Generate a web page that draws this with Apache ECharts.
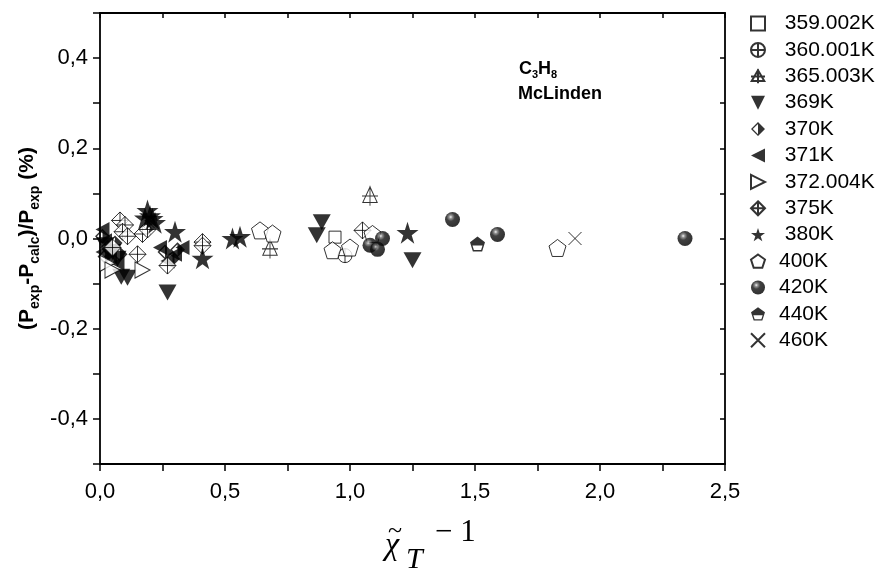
<!DOCTYPE html>
<html><head><meta charset="utf-8">
<script src="https://cdn.jsdelivr.net/npm/echarts@6/dist/echarts.min.js"></script>
<style>html,body{margin:0;padding:0;background:#fff}#c{width:883px;height:572px}</style>
</head><body><div id="c"></div>
<script>
const seriesNames = ['359.002K','360.001K','365.003K','369K','370K','371K','372.004K','375K','380K','400K','420K','440K','460K'];
const d359 = [[0.94,0.003]];
const d360 = [[0.98,-0.038]];
const d365 = [[1.08,0.095],[0.68,-0.022]];
const d369 = [[0.867,0.007],[0.887,0.036],[1.25,-0.048],[0.085,-0.085],[0.11,-0.087],[0.27,-0.12],[0.02,-0.015],[0.05,-0.03],[0.07,-0.045]];
const d370 = [[0.01,0.005],[0.03,-0.02],[0.06,-0.01],[0.08,-0.035],[0.02,-0.04],[0.26,-0.03],[0.29,-0.045],[0.31,-0.025]];
const d371 = [[0.01,0.02],[0.02,-0.005],[0.04,-0.04],[0.07,-0.055],[0.01,-0.03],[0.24,-0.02],[0.27,-0.05],[0.30,-0.035],[0.33,-0.02]];
const d372 = [[0.17,-0.07],[0.03,-0.055],[0.05,-0.07]];
const d375 = [[0.08,0.04],[0.10,0.03],[0.09,0.015],[0.11,0.005],[0.17,0.01],[0.15,-0.035],[0.27,-0.06],[0.41,-0.008],[0.41,-0.016],[1.05,0.018],[0.05,-0.02],[0.19,0.02]];
const d380 = [[0.19,0.062],[0.21,0.044],[0.18,0.045],[0.30,0.015],[0.41,-0.044],[0.53,0.0],[0.56,0.004],[1.23,0.013],[0.22,0.035],[0.2,0.05]];
const d400 = [[0.64,0.018],[0.69,0.011],[0.93,-0.026],[1.0,-0.02],[1.09,0.01],[1.83,-0.021]];
const d420 = [[1.08,-0.015],[1.13,0.0],[1.11,-0.024],[1.41,0.042],[1.59,0.009],[2.34,0.0]];
const d440 = [[1.51,-0.012]];
const d460 = [[1.90,0.0]];
const xTickLabels = ['0,0','0,5','1,0','1,5','2,0','2,5'];
const yTickLabels = ['-0,4','-0,2','0,0','0,2','0,4'];

const SYM = {
  square: 'path://M0,0L100,0L100,100L0,100Z',
  circlePlus: 'path://M50,0A50,50,0,1,1,49.9,0ZM50,0L50,100M0,50L100,50',
  triCross: 'path://M50,6L95,84L5,84ZM50,0L50,100M0,52L100,52',
  triDown: 'path://M0,0L100,0L50,100Z',
  halfDiamond: 'path://M50,0L100,50L50,100L0,50ZM50,13L13,50L50,87L87,50ZM50,0L100,50L50,100Z',
  triLeft: 'path://M0,50L100,0L100,100Z',
  triRight: 'path://M0,0L100,50L0,100Z',
  diamondCross: 'path://M50,0L100,50L50,100L0,50ZM50,0L50,100M0,50L100,50',
  star: 'path://M50,0L61.2,34.5L97.6,34.5L68.2,55.9L79.4,90.5L50,69.1L20.6,90.5L31.8,55.9L2.4,34.5L38.8,34.5Z',
  pentagon: 'path://M50,0L97.6,34.5L79.4,90.5L20.6,90.5L2.4,34.5Z',
  halfPentagon: 'path://M50,0L97.6,34.5L79.4,90.5L20.6,90.5L2.4,34.5ZM50,11L12.9,38L27.1,82L72.9,82L87.1,38ZM50,0L97.6,34.5L90.9,55L9.1,55L2.4,34.5Z',
  cross: 'path://M0,0L100,100M100,0L0,100'
};
const open = {color:'#fff', borderColor:'#000', borderWidth:1};
const filled = {color:'#000', borderWidth:0};
const sphere = {color:{type:'radial',x:0.38,y:0.33,r:0.62,colorStops:[{offset:0,color:'#f4f4f4'},{offset:0.18,color:'#777'},{offset:0.45,color:'#111'},{offset:1,color:'#000'}]}, borderWidth:0};

const defs = [
  [d359, SYM.square, 12, open],
  [d360, SYM.circlePlus, 14, open],
  [d365, SYM.triCross, [16,20], open],
  [d369, SYM.triDown, [18,16], filled],
  [d370, SYM.halfDiamond, 15, filled],
  [d371, SYM.triLeft, [14,15], filled],
  [d372, SYM.triRight, [15,16], open],
  [d375, SYM.diamondCross, 17, open],
  [d380, SYM.star, 22, filled],
  [d400, SYM.pentagon, 17, open],
  [d420, 'circle', 15, sphere],
  [d440, SYM.halfPentagon, 15, filled],
  [d460, SYM.cross, 13, {color:'transparent', borderColor:'#000', borderWidth:1}]
];

const series = defs.map((d, i) => ({
  name: seriesNames[i], type: 'scatter', data: d[0], symbol: d[1], symbolSize: d[2],
  itemStyle: d[3], xAxisIndex: 0, yAxisIndex: 0, emphasis: {disabled: true}
}));

const FONT = 'Liberation Sans';
const SERIF = 'Liberation Serif';
const axisLine = {show: true, onZero: false, lineStyle: {color: '#000', width: 1.8}};

const chart = echarts.init(document.getElementById('c'), null, {renderer: 'canvas'});
chart.setOption({
  animation: false,
  backgroundColor: '#fff',
  grid: {left: 100, right: 158, top: 13, bottom: 108},
  legend: {
    orient: 'vertical', left: 745, top: 8, itemWidth: 14, itemHeight: 14, itemGap: 5.4,
    data: seriesNames,
    formatter: n => (seriesNames.indexOf(n) < 9 ? ' ' : '') + n,
    textStyle: {fontFamily: FONT, fontSize: 21, lineHeight: 21, color: '#000', padding: [0,0,0,9]},
    selectedMode: false
  },
  xAxis: [{
    type: 'value', min: 0, max: 2.5, interval: 0.25, position: 'bottom',
    axisLine: axisLine, splitLine: {show: false},
    axisTick: {show: true, inside: false, length: 7, lineStyle: {color: '#000', width: 1.5}},
    axisLabel: {margin: 17, fontFamily: FONT, fontSize: 22, color: '#000',
      formatter: v => { const k = Math.round(v * 4); return k % 2 ? '' : xTickLabels[k / 2]; }}
  }, {
    type: 'value', min: 0, max: 2.5, interval: 0.25, position: 'top',
    axisLine: axisLine, splitLine: {show: false},
    axisTick: {show: true, inside: true, length: 5, lineStyle: {color: '#000', width: 1.5}},
    axisLabel: {show: false}
  }],
  yAxis: [{
    type: 'value', min: -0.5, max: 0.5, interval: 0.1, position: 'left',
    axisLine: axisLine, splitLine: {show: false},
    axisTick: {show: true, inside: false, length: 7, lineStyle: {color: '#000', width: 1.5}},
    axisLabel: {margin: 12, fontFamily: FONT, fontSize: 22, color: '#000',
      formatter: v => { const k = Math.round(v * 10); return k % 2 ? '' : yTickLabels[(k + 4) / 2]; }},
    name: '{m|(P}{s|exp}{m|-P}{s|calc}{m|)/P}{s|exp}{m| (%)}', nameLocation: 'middle', nameRotate: 90, nameGap: 58,
    nameMoveOverlap: false,
    nameTextStyle: {rich: {
      m: {fontFamily: FONT, fontWeight: 'bold', fontSize: 21, color: '#000', verticalAlign: 'top'},
      s: {fontFamily: FONT, fontWeight: 'bold', fontSize: 14, color: '#000', verticalAlign: 'top', padding: [11,0,0,0]}
    }}
  }, {
    type: 'value', min: -0.5, max: 0.5, interval: 0.1, position: 'right',
    axisLine: axisLine, splitLine: {show: false},
    axisTick: {show: true, inside: true, length: 5, lineStyle: {color: '#000', width: 1.5}},
    axisLabel: {show: false}
  }],
  graphic: [
    {type: 'text', left: 519, top: 60, style: {text: '{a|C}{b|3}{a|H}{b|8}', rich: {
      a: {fontFamily: FONT, fontWeight: 'bold', fontSize: 18, fill: '#000', verticalAlign: 'top'},
      b: {fontFamily: FONT, fontWeight: 'bold', fontSize: 11, fill: '#000', verticalAlign: 'top', padding: [9,0,0,0]}
    }}},
    {type: 'text', left: 518, top: 85, style: {text: 'McLinden', fontFamily: FONT, fontWeight: 'bold', fontSize: 18, fill: '#000'}},
    {type: 'text', x: 385, y: 546, style: {text: '\u03C7', fontFamily: SERIF, fontStyle: 'italic', fontSize: 32, fill: '#000', align: 'left', verticalAlign: 'middle'}},
    {type: 'text', x: 395, y: 531, style: {text: '~', fontFamily: SERIF, fontSize: 26, fill: '#000', align: 'center', verticalAlign: 'middle'}},
    {type: 'text', x: 406, y: 560, style: {text: 'T', fontFamily: SERIF, fontStyle: 'italic', fontSize: 30, fill: '#000', align: 'left', verticalAlign: 'middle'}},
    {type: 'text', x: 435, y: 533, style: {text: '\u2212 1', fontFamily: SERIF, fontSize: 31, fill: '#000', align: 'left', verticalAlign: 'middle'}}
  ],
  series: series
});
</script></body></html>
